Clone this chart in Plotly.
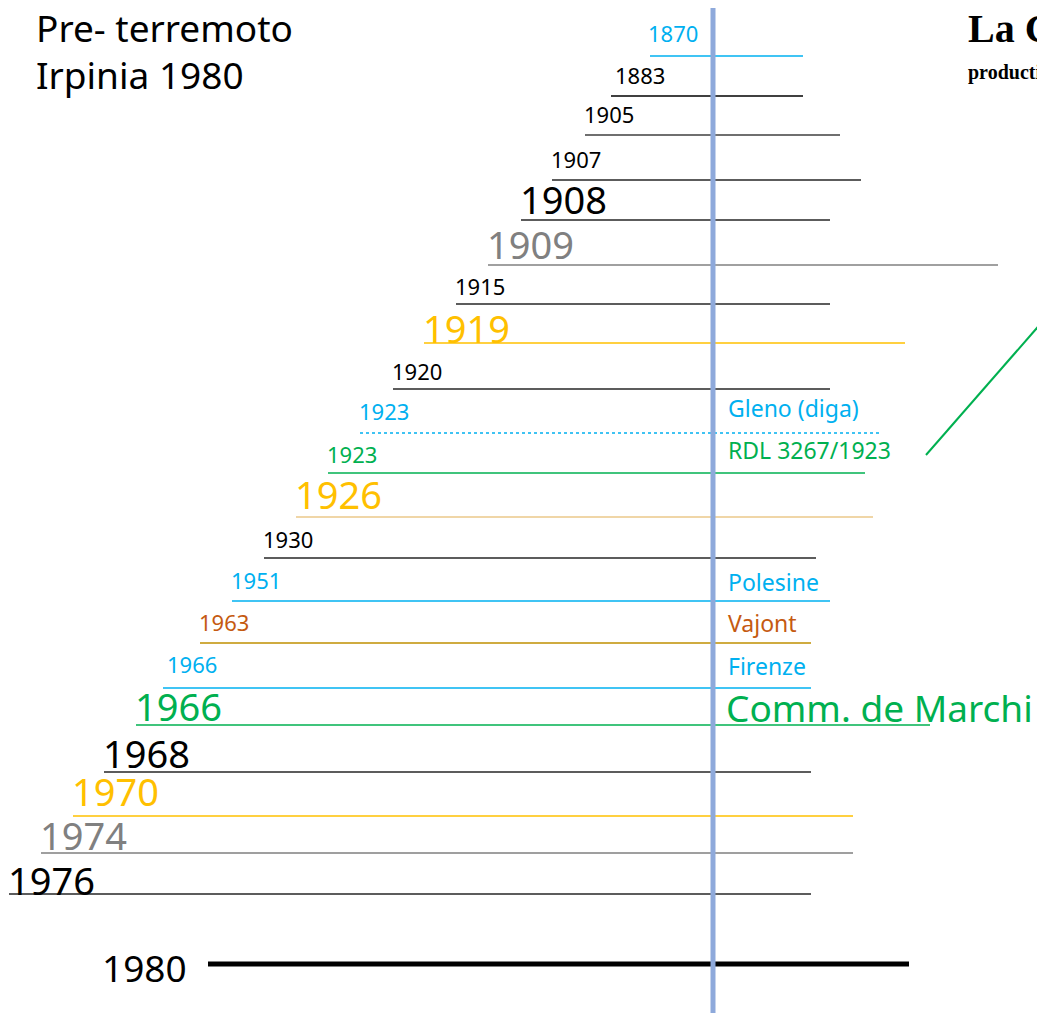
import plotly.graph_objects as go

# ---- data ----
years = ["1870", "1883", "1905", "1907", "1908", "1909", "1915", "1919", "1920",
         "1923", "1923", "1926", "1930", "1951", "1963", "1966", "1966",
         "1968", "1970", "1974", "1976"]
events = ["", "", "", "", "", "", "", "", "", "Gleno (diga)", "RDL 3267/1923", "", "",
          "Polesine", "Vajont", "Firenze", "Comm. de Marchi", "", "", "", ""]
label_colors = ["#00B0F0", "#000000", "#000000", "#000000", "#000000", "#808080", "#000000",
                "#FFC000", "#000000", "#00B0F0", "#00B050", "#FFC000", "#000000", "#00B0F0",
                "#C55A11", "#00B0F0", "#00B050", "#000000", "#FFC000", "#808080", "#000000"]
line_colors = ["#00B0F0", "#000000", "#3F3F3F", "#262626", "#262626", "#808080", "#262626",
               "#FFC000", "#262626", "#00B0F0", "#00B050", "#EBC88A", "#262626", "#00B0F0",
               "#BF8F00", "#00B0F0", "#00B050", "#262626", "#FFC000", "#7F7F7F", "#262626"]
big = [False, False, False, False, True, True, False, True, False, False, False, True, False,
       False, False, False, True, True, True, True, True]

# ---- layout geometry (pixel space) ----
line_y = [56, 96, 135, 180, 220, 265, 304, 343, 389, 433, 473, 517, 558, 601, 643, 688,
          725, 772, 816, 853, 894]
line_x0 = [650, 611, 585, 552, 521, 488, 456, 424, 393, 360, 328, 296, 264, 232, 200, 163,
           136, 104, 73, 41, 9]
line_x1 = [803, 803, 840, 861, 830, 998, 830, 905, 830, 880, 865, 873, 816, 830, 811, 811,
           930, 811, 853, 853, 811]
label_x = [649, 616, 585, 552, 521, 488, 456, 424, 393, 360, 328, 296, 264, 232, 200, 168,
           136, 104, 73, 41, 9]
label_y = [33, 75, 114, 159, 199, 244, 286, 328, 371, 411, 454, 494, 539, 580, 622, 664,
           706, 753, 791, 835, 880]
event_y = [None] * 9 + [408, 450, None, None, 582, 623, 666, 707] + [None] * 4

W, H = 1037, 1013
fig = go.Figure()
FONT = "Noto Sans"
PAD = 3  # annotation text inset

for i, yr in enumerate(years):
    fig.add_trace(go.Scatter(
        x=[line_x0[i], line_x1[i]], y=[line_y[i], line_y[i]], mode="lines",
        line=dict(color=line_colors[i], width=1.3, dash="dot" if i == 9 else "solid"),
        hoverinfo="skip", showlegend=False))
    fig.add_annotation(x=label_x[i] - PAD, y=label_y[i], text=yr, xanchor="left",
                       yanchor="middle", showarrow=False,
                       font=dict(family=FONT, size=38 if big[i] else 22, color=label_colors[i]))
    if events[i]:
        fig.add_annotation(x=(729 if not big[i] else 727) - PAD, y=event_y[i], text=events[i],
                           xanchor="left", yanchor="middle", showarrow=False,
                           font=dict(family=FONT, size=37 if big[i] else 23,
                                     color=label_colors[i]))

# 1980 baseline
fig.add_trace(go.Scatter(x=[208, 909], y=[964, 964], mode="lines",
                         line=dict(color="#000000", width=5), hoverinfo="skip", showlegend=False))
fig.add_annotation(x=103 - PAD, y=967, text="1980", xanchor="left", yanchor="middle",
                   showarrow=False, font=dict(family=FONT, size=37, color="#000000"))

# green pointer line
fig.add_trace(go.Scatter(x=[926, 1050], y=[455, 313], mode="lines",
                         line=dict(color="#00B050", width=2), hoverinfo="skip", showlegend=False))

# vertical axis line
fig.add_trace(go.Scatter(x=[713, 713], y=[8, 1013], mode="lines",
                         line=dict(color="#8EA9DB", width=5), hoverinfo="skip", showlegend=False))

# title
fig.add_annotation(x=37 - PAD, y=27, text="Pre- terremoto", xanchor="left", yanchor="middle",
                   showarrow=False, font=dict(family=FONT, size=37, color="#000000"))
fig.add_annotation(x=37 - PAD, y=74, text="Irpinia 1980", xanchor="left", yanchor="middle",
                   showarrow=False, font=dict(family=FONT, size=37, color="#000000"))

# logo fragment (cut off at the right edge as in the source)
fig.add_annotation(x=966, y=28, text="<b>La C</b>", xanchor="left", yanchor="middle",
                   showarrow=False,
                   font=dict(family="Liberation Serif", size=40, color="#000000"))
fig.add_annotation(x=966, y=72, text="<b>production</b>", xanchor="left", yanchor="middle",
                   showarrow=False, font=dict(family="Liberation Serif", size=20, color="#000000"))

fig.update_layout(
    width=W, height=H, margin=dict(l=0, r=0, t=0, b=0),
    paper_bgcolor="white", plot_bgcolor="white",
    xaxis=dict(range=[0, W], visible=False, fixedrange=True),
    yaxis=dict(range=[H, 0], visible=False, fixedrange=True),
)

fig.write_html("out.html", config={"displayModeBar": False},
               post_script="document.body.style.margin='0';")
